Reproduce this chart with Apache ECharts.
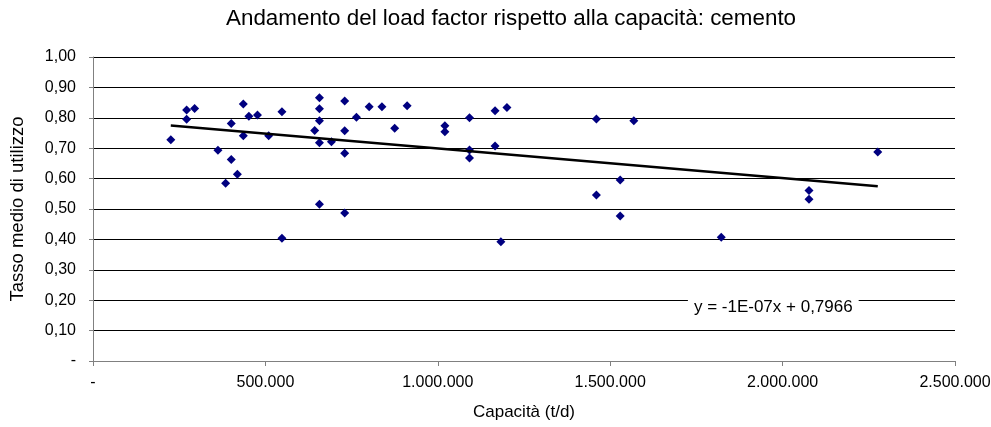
<!DOCTYPE html>
<html>
<head>
<meta charset="utf-8">
<script src="https://cdn.jsdelivr.net/npm/echarts@6/dist/echarts.min.js"></script>
<style>
html,body{margin:0;padding:0;background:#fff;}
#c{width:991px;height:427px;}
</style>
</head>
<body>
<div id="c"></div>
<script>
// Capacity (t/d) and average utilisation rate
const capacity = [
  225600, 271500, 271500, 294700, 362400, 384700, 401000, 401000, 418700,
  436000, 436000, 452000, 477000, 509600, 548000, 548000,
  656800, 656800, 656800, 643000, 656800, 691600, 656800,
  730000, 730000, 730000, 730000, 764000, 801000, 838000, 875000,
  911000, 1020600, 1020600, 1092000, 1092000, 1092000,
  1166000, 1200600, 1166000, 1183000,
  1460000, 1460000, 1529000, 1529000, 1568500,
  1822000, 2076600, 2076600, 2276000
];
const utilisation = [
  0.728, 0.795, 0.826, 0.831, 0.693, 0.585, 0.781, 0.663, 0.614,
  0.845, 0.741, 0.805, 0.809, 0.741, 0.820, 0.404,
  0.866, 0.830, 0.790, 0.758, 0.718, 0.721, 0.516,
  0.855, 0.757, 0.683, 0.487, 0.802, 0.836, 0.836, 0.766,
  0.840, 0.774, 0.754, 0.800, 0.694, 0.668,
  0.823, 0.834, 0.707, 0.392,
  0.796, 0.546, 0.595, 0.477, 0.790,
  0.407, 0.561, 0.532, 0.6875
];
const yTicks = ['-', '0,10', '0,20', '0,30', '0,40', '0,50', '0,60', '0,70', '0,80', '0,90', '1,00'];
const xTicks = ['-', '500.000', '1.000.000', '1.500.000', '2.000.000', '2.500.000'];
// Trendline as shown on the chart: y = -1E-07x + 0,7966
const trendSlope = -0.975e-7;
const trendIntercept = 0.7966;
const trendLabel = 'y = -1E-07x + 0,7966';
const trendLabelAt = [1973000, 0.178];

const points = capacity.map((c, i) => [c, utilisation[i]]);
const xMin = Math.min(...capacity), xMax = Math.max(...capacity);
const trend = [[xMin, trendIntercept + trendSlope * xMin], [xMax, trendIntercept + trendSlope * xMax]];

const font = 'Liberation Sans, Arial, sans-serif';
const chart = echarts.init(document.getElementById('c'), null, {renderer: 'canvas'});
chart.setOption({
  animation: false,
  backgroundColor: '#fff',
  textStyle: {fontFamily: font, color: '#000'},
  title: {
    text: 'Andamento del load factor rispetto alla capacità: cemento',
    left: 226, top: 8, padding: 0,
    textStyle: {fontFamily: font, fontSize: 22.4, fontWeight: 'normal', color: '#000'}
  },
  grid: {left: 93, right: 36, top: 57, bottom: 66, outerBoundsMode: 'none', containLabel: false},
  xAxis: {
    type: 'value', min: 0, max: 2500000, interval: 500000,
    name: 'Capacità (t/d)', nameLocation: 'middle', nameGap: 43,
    nameTextStyle: {fontFamily: font, fontSize: 17, color: '#000'},
    axisLine: {show: true, onZero: false, lineStyle: {color: '#808080', width: 1}},
    axisTick: {show: true, length: 5, lineStyle: {color: '#808080'}},
    axisLabel: {fontFamily: font, fontSize: 16, color: '#000', margin: 14,
      formatter: v => xTicks[Math.round(v / 500000)]},
    splitLine: {show: false}
  },
  yAxis: {
    type: 'value', min: 0, max: 1, interval: 0.1,
    name: 'Tasso medio di utilizzo', nameLocation: 'middle', nameGap: 66, nameRotate: 90,
    nameTextStyle: {fontFamily: font, fontSize: 18.5, color: '#000'},
    axisLine: {show: true, lineStyle: {color: '#808080', width: 1}},
    axisTick: {show: true, length: 4, lineStyle: {color: '#808080'}},
    axisLabel: {fontFamily: font, fontSize: 16, color: '#000', margin: 17,
      formatter: v => yTicks[Math.round(v * 10)]},
    splitLine: {show: true, lineStyle: {color: '#000', width: 1}}
  },
  series: [
    {
      type: 'scatter', data: points, symbol: 'diamond', symbolSize: 9,
      itemStyle: {color: '#000080', opacity: 1}, z: 3
    },
    {
      type: 'line', data: trend, symbol: 'none',
      lineStyle: {color: '#000', width: 2.5}, z: 4,
      markPoint: {
        symbol: 'rect', symbolSize: 1, itemStyle: {color: 'rgba(0,0,0,0)'},
        data: [{coord: trendLabelAt}],
        label: {
          show: true, position: 'inside', formatter: trendLabel,
          fontFamily: font, fontSize: 17, color: '#000',
          backgroundColor: '#fff', padding: [2, 6]
        }
      }
    }
  ]
});
</script>
</body>
</html>
